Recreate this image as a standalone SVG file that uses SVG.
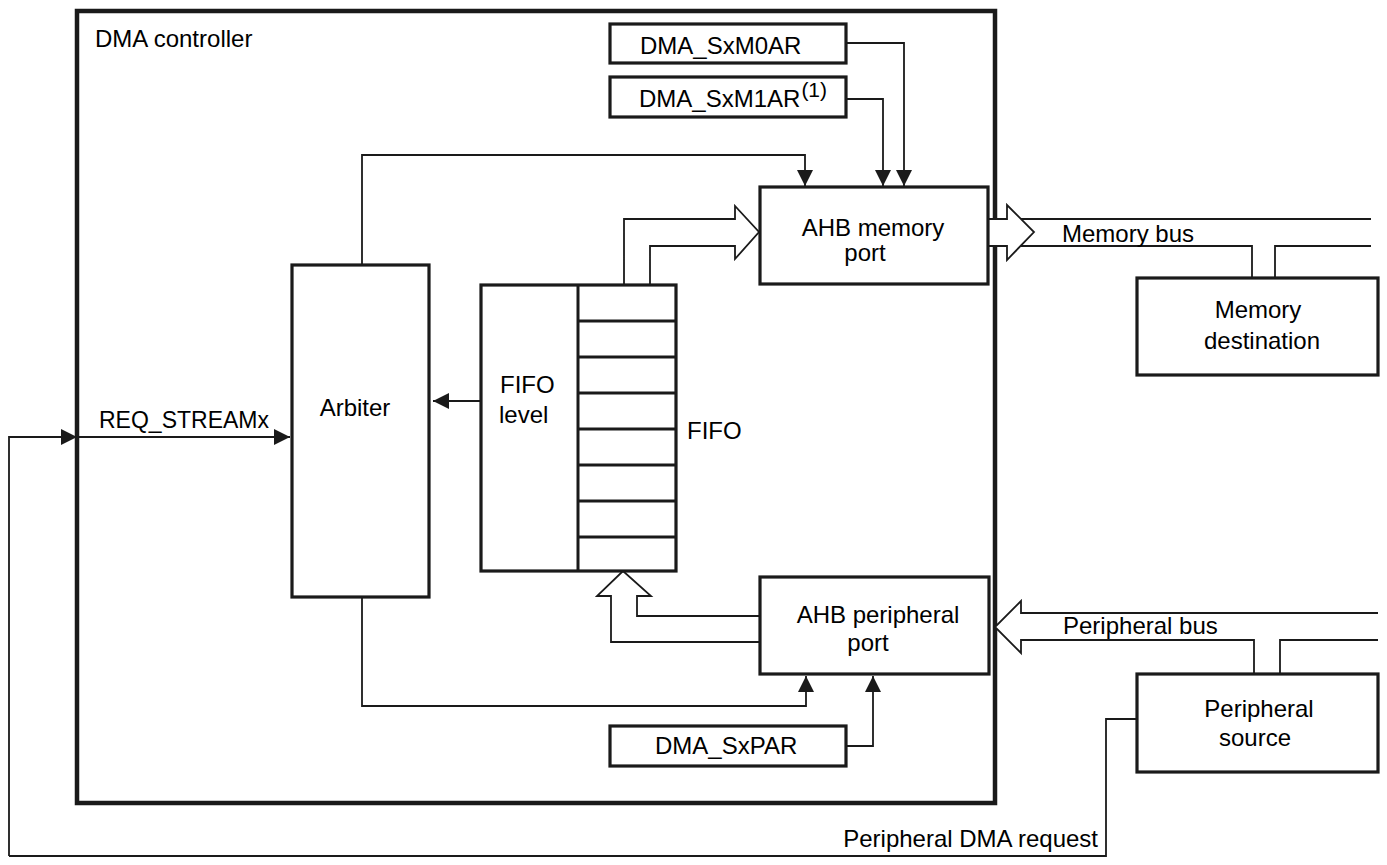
<svg xmlns="http://www.w3.org/2000/svg" width="1387" height="865" viewBox="0 0 1387 865">
<style>
text{font-family:"Liberation Sans",Arial,sans-serif;font-size:24px;fill:#000}
.box{fill:#fff;stroke:#1a1a1a;stroke-width:3.2}
.main{fill:none;stroke:#1a1a1a;stroke-width:4.5}
.ln{fill:none;stroke:#1a1a1a;stroke-width:1.8}
.hol{fill:#fff;stroke:#1a1a1a;stroke-width:1.8;stroke-linejoin:miter}
.m{text-anchor:middle}
</style>
<defs>
<marker id="ah" viewBox="0 0 16 16" refX="16" refY="8" markerWidth="16" markerHeight="16" markerUnits="userSpaceOnUse" orient="auto">
<path d="M0,0 L16,8 L0,16 Z" fill="#1a1a1a"/>
</marker>
</defs>
<g id="dma-controller">
<rect class="main" x="77" y="11" width="918" height="792"/>
<text x="95" y="47">DMA controller</text>
</g>
<g id="connectors">
<path class="ln" d="M846,43 H904 V186" marker-end="url(#ah)"/>
<path class="ln" d="M846,99 H883 V186" marker-end="url(#ah)"/>
<path class="ln" d="M362,265 V155 H805 V186" marker-end="url(#ah)"/>
<path class="ln" d="M362,597 V706 H806 V676" marker-end="url(#ah)"/>
<path class="ln" d="M846,746 H873 V676" marker-end="url(#ah)"/>
<path class="ln" d="M481,401 H433" marker-end="url(#ah)"/>
<path class="ln" d="M9,856 V437 H77" marker-end="url(#ah)"/>
<path class="ln" d="M78,437 H290" marker-end="url(#ah)"/>
<path class="ln" d="M1137,719 H1106 V856 H9"/>
<path class="hol" d="M624,285 V219 H735 V206 L759,232 L735,259 V246 H650 V285"/>
<path class="hol" d="M759,616 H637 V596 H651 L623,571 L597,596 H611 V642 H759"/>
<path class="hol" d="M988,219 H1007 V205 L1034,232 L1007,260 V246 H988"/>
<path class="ln" d="M1021,219 H1371"/>
<path class="ln" d="M1021,246 H1252 V278"/>
<path class="ln" d="M1275,278 V246 H1371"/>
<path class="hol" d="M1378,613 H1021 V601 L995,627 L1021,653 V640 H1254 V674"/>
<path class="ln" d="M1280,674 V640 H1378"/>
</g>
<g id="dma-sxm0ar">
<rect class="box" x="610" y="24" width="236" height="39"/>
<text x="640" y="54">DMA_SxM0AR</text>
</g>
<g id="dma-sxm1ar">
<rect class="box" x="610" y="77" width="236" height="40"/>
<text x="639" y="107">DMA_SxM1AR<tspan dx="1" dy="-10" font-size="21">(1)</tspan></text>
</g>
<g id="ahb-memory-port">
<rect class="box" x="760" y="187" width="228" height="97"/>
<text class="m" x="873" y="236">AHB memory</text>
<text class="m" x="865" y="261">port</text>
</g>
<g id="arbiter">
<rect class="box" x="292" y="265" width="137" height="332"/>
<text class="m" x="355" y="416">Arbiter</text>
</g>
<g id="fifo">
<rect class="box" x="481" y="285" width="195" height="286"/>
<path class="ln" style="stroke-width:3" d="M578,285 V571 M578,321 H676 M578,357 H676 M578,393 H676 M578,429 H676 M578,465 H676 M578,501 H676 M578,537 H676"/>
<text x="500" y="393">FIFO</text>
<text x="499" y="423">level</text>
<text x="687" y="439">FIFO</text>
</g>
<g id="ahb-peripheral-port">
<rect class="box" x="760" y="577" width="229" height="97"/>
<text class="m" x="878" y="623">AHB peripheral</text>
<text class="m" x="868" y="651">port</text>
</g>
<g id="dma-sxpar">
<rect class="box" x="610" y="726" width="236" height="40"/>
<text x="655" y="754">DMA_SxPAR</text>
</g>
<g id="memory-destination">
<rect class="box" x="1137" y="278" width="241" height="97"/>
<text class="m" x="1258" y="318">Memory</text>
<text class="m" x="1262" y="349">destination</text>
</g>
<g id="peripheral-source">
<rect class="box" x="1137" y="674" width="241" height="98"/>
<text class="m" x="1259" y="717">Peripheral</text>
<text class="m" x="1255" y="746">source</text>
</g>
<g id="labels">
<text x="99" y="428" style="font-size:23px">REQ_STREAMx</text>
<text x="1062" y="242">Memory bus</text>
<text x="1063" y="634">Peripheral bus</text>
<text x="1098" y="847" text-anchor="end">Peripheral DMA request</text>
</g>
</svg>
